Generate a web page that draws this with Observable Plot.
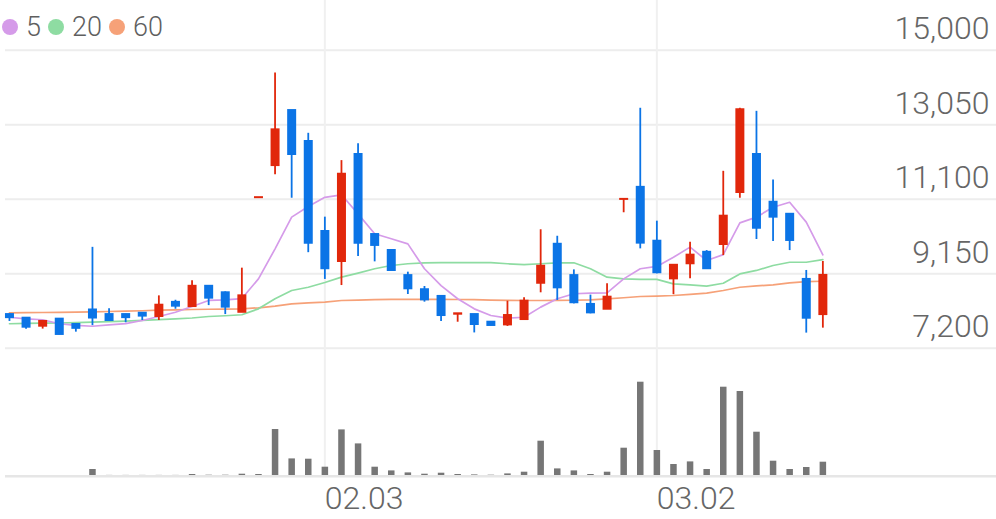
<!DOCTYPE html>
<html>
<head>
<meta charset="utf-8">
<script src="https://cdn.jsdelivr.net/npm/d3@7"></script>
<script src="https://cdn.jsdelivr.net/npm/@observablehq/plot@0.6"></script>
<style>
  html, body { margin: 0; padding: 0; background: #fff; }
  #chart { position: relative; width: 996px; height: 519px; overflow: hidden; font-family: Roboto, "Noto Sans", sans-serif; }
  #legend { position: absolute; left: 2px; top: 12px; display: flex; align-items: center; gap: 7px; font-size: 27px; line-height: 30px; color: #5f5f5f; font-weight: 300; z-index: 2; }
  #legend .item { display: flex; align-items: center; }
  #legend .dot { width: 16px; height: 16px; border-radius: 50%; margin-right: 8px; }
  #price { position: absolute; left: 0; top: 0; }
  #volume { position: absolute; left: 0; top: 360px; }
</style>
</head>
<body>
<div id="chart">
  <div id="legend"></div>
  <div id="price"></div>
  <div id="volume"></div>
</div>
<script>
const dates = [
  "01.03","01.06","01.07","01.08","01.09","01.10","01.13","01.14","01.15","01.16",
  "01.17","01.20","01.21","01.22","01.23","01.28","01.29","01.30","01.31",
  "02.03","02.04","02.05","02.06","02.07","02.10","02.11","02.12","02.13","02.14",
  "02.17","02.18","02.19","02.20","02.21","02.24","02.25","02.26","02.27","02.28",
  "03.02","03.03","03.04","03.05","03.06","03.09","03.10","03.11","03.12","03.13","03.16"
];
const open = [8080,7985,7776,7960,7820,8200,8080,8080,8115,8030,8400,8290,8820,8650,8140,11140,11980,13420,12610,10255,9470,12270,10175,9757,9100,8730,8555,8090,8080,7880,7810,7950,8900,9920,9100,8345,8220,11095,11410,10000,9015,9410,9710,9915,11275,12270,11020,10705,9000,8080];
const close = [8000,7750,7900,7560,7720,7990,7925,8000,8040,8325,8300,8820,8510,8275,8570,11140,12915,12270,9950,9280,11755,9950,9890,9233,8755,8465,8055,8100,7820,7795,8055,8430,9345,8780,8390,8125,8535,11095,9950,9175,9370,9635,9280,10655,13440,10340,10630,10020,7985,9105];
const high = [8100,7990,7900,7960,7820,9840,8230,8090,8120,8570,8455,8965,8830,8675,9295,11140,14400,13420,12825,10630,12110,12550,10190,9757,9190,8815,8560,8100,8085,7885,8430,8520,10300,10130,9250,8590,8885,11095,13480,10525,9372,9975,9755,11830,13480,13400,11605,10720,9235,9470];
const low = [7900,7697,7700,7550,7620,7790,7900,7865,7925,7925,8220,8290,8315,8080,8140,11140,11740,11125,9700,9000,8840,9600,9460,9233,8605,8405,7900,7880,7600,7790,7770,7950,8650,8450,8360,8100,8220,10745,9800,9145,8600,9015,9275,9625,11125,10045,9990,9755,7595,7725];
const ma5 = [8010,7970,7945,7840,7795,7775,7810,7845,7925,8030,8140,8290,8450,8465,8500,9015,9800,10630,10910,11150,11215,10715,10195,10065,9930,9280,8840,8495,8230,8055,7985,8010,8275,8495,8625,8640,8650,9015,9280,9340,9580,9845,9495,9650,10480,10630,10890,11020,10500,9645];
const ma20 = [7840,7850,7855,7860,7870,7880,7895,7910,7930,7950,7970,7990,8030,8050,8075,8230,8495,8710,8795,8920,9060,9165,9280,9365,9410,9435,9440,9440,9440,9440,9410,9390,9410,9435,9435,9280,9060,9015,9000,9000,8885,8860,8825,8900,9145,9235,9365,9450,9450,9520];
const ma60 = [8126,8130,8135,8140,8145,8150,8160,8170,8180,8195,8205,8213,8220,8225,8231,8257,8300,8362,8385,8404,8448,8460,8474,8476,8478,8480,8480,8475,8470,8460,8450,8448,8448,8450,8455,8465,8493,8520,8553,8565,8579,8610,8640,8710,8796,8830,8859,8911,8945,8953];
const volume = [15,15,15,15,15,335,40,40,40,40,40,85,50,50,100,85,2335,865,850,450,2315,1615,450,265,165,100,150,85,65,50,115,200,1750,365,265,85,200,1400,4700,1285,585,715,335,4450,4235,2200,750,335,435,700];
const yTicks = [7200, 9150, 11100, 13050, 15000];
const xTicks = ["02.03", "03.02"];
const maLabels = ["5", "20", "60"];
const maColors = ["#d59be9", "#8edca2", "#f6a178"];

const UP = "#e1270b", DOWN = "#0b74e6";
const rows = dates.map((d, i) => ({
  i, date: d, open: open[i], close: close[i], high: high[i], low: low[i],
  ma5: ma5[i], ma20: ma20[i], ma60: ma60[i], volume: volume[i],
  color: close[i] >= open[i] ? UP : DOWN
}));
const tickRows = xTicks.map(t => ({ label: t, i: dates.indexOf(t) }));

// legend
const legend = document.getElementById("legend");
maLabels.forEach((l, k) => {
  const it = document.createElement("div");
  it.className = "item";
  it.innerHTML = `<span class="dot" style="background:${maColors[k]}"></span><span>${l}</span>`;
  legend.appendChild(it);
});

const xDomain = [-0.54, 59.46];
const font = "Roboto, 'Noto Sans', sans-serif";

const price = Plot.plot({
  width: 996, height: 360,
  marginTop: 49.7, marginBottom: 12.3, marginLeft: 0, marginRight: 0,
  x: { domain: xDomain, axis: null },
  y: { domain: [7200, 15000], axis: null },
  color: { type: "identity" },
  style: { fontFamily: font, background: "transparent" },
  marks: [
    Plot.ruleY(yTicks, { stroke: "#ededed", strokeWidth: 2, insetLeft: 5 }),
    Plot.ruleX(tickRows, { x: "i", stroke: "#f0f0f0", strokeWidth: 2, insetTop: -50, insetBottom: -13 }),
    Plot.line(rows, { x: "i", y: "ma60", stroke: maColors[2], strokeWidth: 1.7 }),
    Plot.line(rows, { x: "i", y: "ma20", stroke: maColors[1], strokeWidth: 1.7 }),
    Plot.line(rows, { x: "i", y: "ma5", stroke: maColors[0], strokeWidth: 1.7 }),
    Plot.ruleX(rows, { x: "i", y1: "low", y2: "high", stroke: "color", strokeWidth: 1.8 }),
    Plot.ruleX(rows, { x: "i", y1: d => Math.max(d.open, d.close), y2: d => Math.min(d.open, d.close), stroke: "color", strokeWidth: 9, insetTop: -1, insetBottom: -1 }),
    Plot.text(yTicks, { y: d => d, text: d => d3.format(",")(d), frameAnchor: "right", textAnchor: "end", dx: -7, dy: -21, fontSize: 32, fontWeight: 300, fill: "#666", fontFamily: font })
  ]
});
document.getElementById("price").appendChild(price);

const vol = Plot.plot({
  width: 996, height: 159,
  marginTop: 21.7, marginBottom: 43.3, marginLeft: 0, marginRight: 0,
  x: { domain: xDomain, axis: null },
  y: { domain: [0, 4700], axis: null },
  style: { fontFamily: font, background: "transparent" },
  marks: [
    Plot.ruleX(tickRows, { x: "i", stroke: "#f0f0f0", strokeWidth: 2, insetTop: -22 }),
    Plot.ruleX(rows, { x: "i", y1: 0, y2: "volume", stroke: "#767676", strokeWidth: 6.5 }),
    Plot.ruleY([0], { stroke: "#e6e6e6", strokeWidth: 2.5, insetLeft: 5 }),
    Plot.text(tickRows, { x: "i", text: "label", frameAnchor: "bottom", textAnchor: "start", dy: 33, fontSize: 32, fontWeight: 300, fill: "#666", fontFamily: font })
  ]
});
document.getElementById("volume").appendChild(vol);
</script>
</body>
</html>
